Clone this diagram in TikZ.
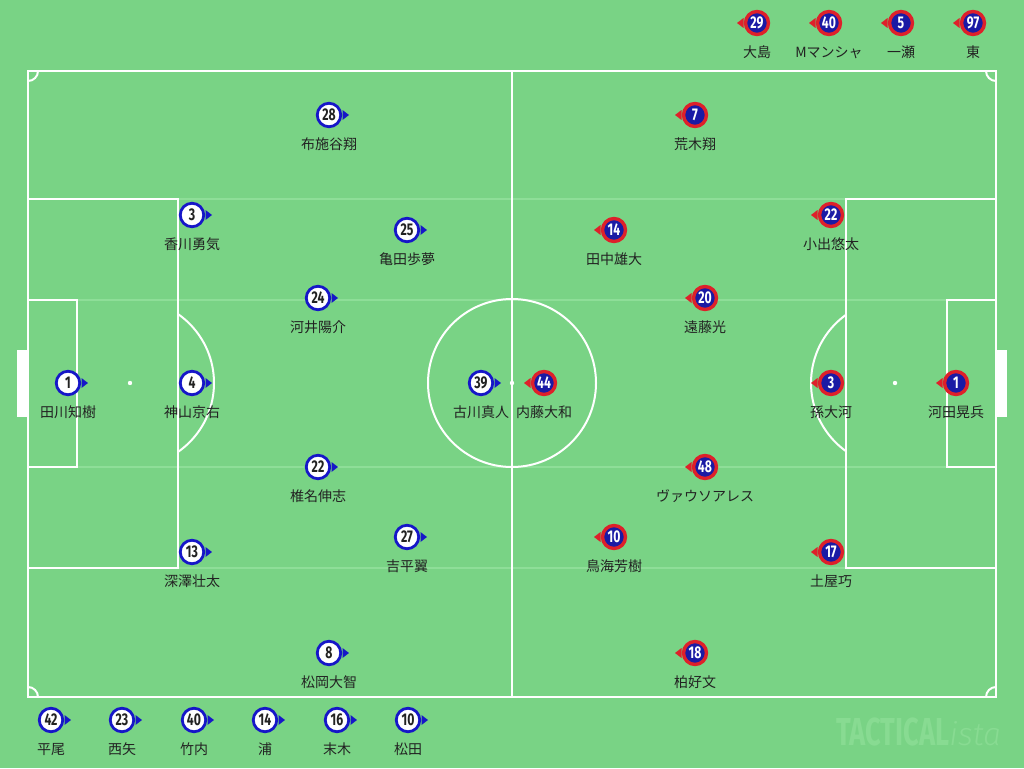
\documentclass[tikz,border=0pt]{standalone}
\usepackage{fontspec}
\setmainfont{Noto Sans CJK JP}
\newfontfamily\numfont[FakeStretch=0.72]{Fira Sans Bold}
\newfontfamily\wmfont[FakeStretch=0.7]{Fira Sans Bold}
\newfontfamily\wmifont{Fira Sans Light Italic}
\usetikzlibrary{calc}
\definecolor{pitchgreen}{RGB}{121,211,133}
\definecolor{faintline}{RGB}{142,222,152}
\definecolor{homeblue}{RGB}{22,22,200}
\definecolor{awayblue}{RGB}{26,26,165}
\definecolor{awayred}{RGB}{222,32,42}
\definecolor{txt}{RGB}{34,34,34}
\definecolor{wmcol}{RGB}{136,219,146}
\tikzset{
  pline/.style={draw=white, line width=2pt},
  fline/.style={draw=faintline, line width=1.2pt},
  homeball/.style={circle, draw=homeblue, line width=2.8pt, fill=white, minimum size=23.5pt, inner sep=0pt, text=txt, font=\numfont\fontsize{17}{17}\selectfont},
  awayball/.style={circle, draw=awayred, line width=3.4pt, fill=awayblue, minimum size=23pt, inner sep=0pt, text=white, font=\numfont\fontsize{17}{17}\selectfont},
  plabel/.style={text=txt, inner sep=0pt, font=\fontsize{14}{14}\selectfont},
}
\newcommand\homep[5]{%
  \node[homeball] (#1) at (#2,#3) {#4};
  \fill[homeblue] ($(#1.center)+(13.5,-5)$) -- ($(#1.center)+(20,0)$) -- ($(#1.center)+(13.5,5)$) -- cycle;
  \node[plabel] (#1l) at ($(#1.center)+(0,29.5)$) {#5};
}
\newcommand\awayp[5]{%
  \node[awayball] (#1) at (#2,#3) {#4};
  \fill[awayred] ($(#1.center)+(-13.5,-5)$) -- ($(#1.center)+(-20,0)$) -- ($(#1.center)+(-13.5,5)$) -- cycle;
  \node[plabel] (#1l) at ($(#1.center)+(0,29.5)$) {#5};
}
\begin{document}
\begin{tikzpicture}[x=1pt,y=-1pt]
\fill[pitchgreen] (0,0) rectangle (1024,768);
\useasboundingbox (0,0) rectangle (1024,768);
% faint lines
\foreach \yy in {199,300,467,568} \draw[fline] (28,\yy) -- (996,\yy);
% goals
\fill[white] (17,350) rectangle (28,417);
\fill[white] (996,350) rectangle (1007,417);
% pitch
\draw[pline] (28,71) rectangle (996,697);
\draw[pline] (512,71) -- (512,697);
\draw[pline] (512,383) circle (84);
\draw[pline] (28,199) rectangle (178,568);
\draw[pline] (28,300) rectangle (77,467);
\draw[pline] (996,199) rectangle (846,568);
\draw[pline] (996,300) rectangle (947,467);
\begin{scope}
  \clip (178,250) rectangle (260,520);
  \draw[pline] (130,383) circle (84);
\end{scope}
\begin{scope}
  \clip (764,250) rectangle (846,520);
  \draw[pline] (895,383) circle (84);
\end{scope}
\begin{scope}
  \clip (28,71) rectangle (996,697);
  \draw[pline] (28,71) circle (10);
  \draw[pline] (996,71) circle (10);
  \draw[pline] (28,697) circle (10);
  \draw[pline] (996,697) circle (10);
\end{scope}
\fill[white] (512,383) circle (2.2);
\fill[white] (130,383) circle (2.2);
\fill[white] (895,383) circle (2.2);
% home team
\homep{h28}{329}{115}{28}{布施谷翔}
\homep{h3}{192}{215}{3}{香川勇気}
\homep{h25}{407}{230}{25}{亀田歩夢}
\homep{h24}{318}{298}{24}{河井陽介}
\homep{h1}{68}{383}{1}{田川知樹}
\homep{h4}{192}{383}{4}{神山京右}
\homep{h39}{481}{383}{39}{古川真人}
\homep{h22}{318}{467}{22}{椎名伸志}
\homep{h27}{407}{537}{27}{吉平翼}
\homep{h13}{192}{552}{13}{深澤壮太}
\homep{h8}{329}{653}{8}{松岡大智}
% away team
\awayp{a7}{695}{115}{7}{荒木翔}
\awayp{a14}{614}{230}{14}{田中雄大}
\awayp{a22}{831}{215}{22}{小出悠太}
\awayp{a20}{705}{298}{20}{遠藤光}
\awayp{a44}{544}{383}{44}{内藤大和}
\awayp{a3}{831}{383}{3}{孫大河}
\awayp{a1}{956}{383}{1}{河田晃兵}
\awayp{a48}{705}{467}{48}{ヴァウソアレス}
\awayp{a10}{614}{537}{10}{鳥海芳樹}
\awayp{a17}{831}{552}{17}{土屋巧}
\awayp{a18}{695}{653}{18}{柏好文}
% away subs
\awayp{as29}{757}{23}{29}{大島}
\awayp{as40}{829}{23}{40}{Mマンシャ}
\awayp{as5}{901}{23}{5}{一瀬}
\awayp{as97}{973}{23}{97}{東}
% home subs
\homep{hs42}{51}{720}{42}{平尾}
\homep{hs23}{122}{720}{23}{西矢}
\homep{hs40}{194}{720}{40}{竹内}
\homep{hs14}{265}{720}{14}{浦}
\homep{hs16}{337}{720}{16}{末木}
\homep{hs10}{408}{720}{10}{松田}
% watermark
\node[anchor=west, inner sep=0pt, text=wmcol] (wm) at (836,732) {\wmfont\fontsize{39}{39}\selectfont TACTICAL\wmifont\fontsize{32}{32}\selectfont ista};
\end{tikzpicture}
\end{document}
